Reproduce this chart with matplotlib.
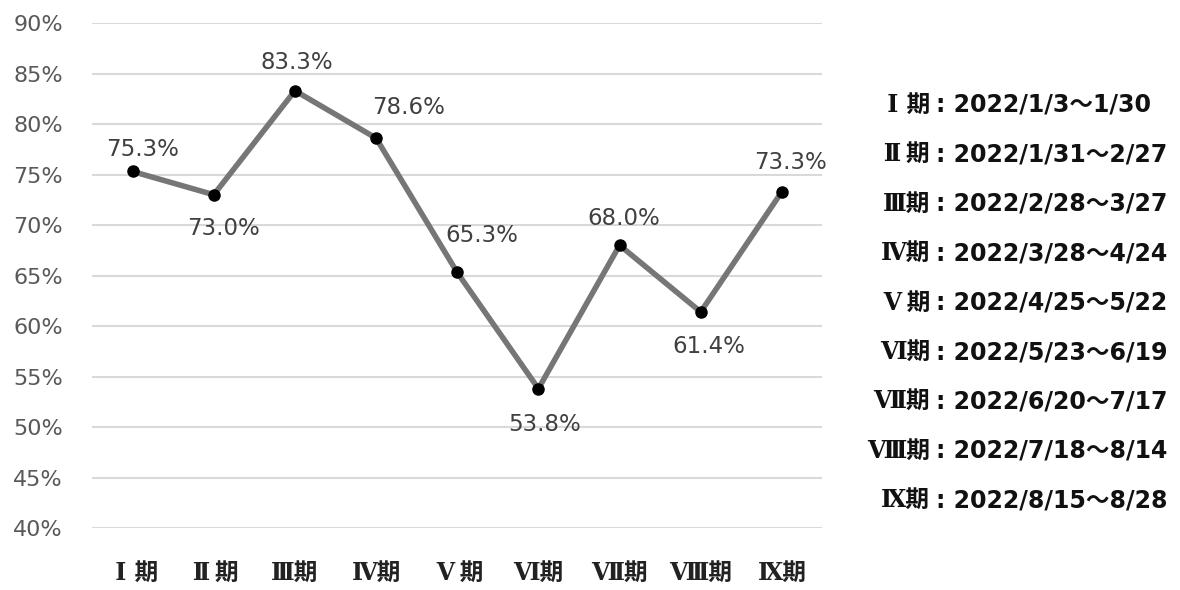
import matplotlib
matplotlib.use('Agg')
import matplotlib.pyplot as plt
from matplotlib.ticker import FuncFormatter

plt.rcParams['font.family'] = ['DejaVu Sans', 'Noto Sans CJK JP']

# Data
numerals = ['Ⅰ', 'Ⅱ', 'Ⅲ', 'Ⅳ', 'Ⅴ', 'Ⅵ', 'Ⅶ', 'Ⅷ', 'Ⅸ']
rates = [75.3, 73.0, 83.3, 78.6, 65.3, 53.8, 68.0, 61.4, 73.3]
ranges = ['2022/1/3～1/30', '2022/1/31～2/27', '2022/2/28～3/27',
          '2022/3/28～4/24', '2022/4/25～5/22', '2022/5/23～6/19',
          '2022/6/20～7/17', '2022/7/18～8/14', '2022/8/15～8/28']

# label offsets from the marker, in pixels (dx, dy up)
label_off = [(10, 22), (10, -34), (2, 28), (32, 31), (25, 37),
             (6, -36), (4, 27), (8, -35), (9, 29)]

serif_cjk = ['DejaVu Serif', 'Noto Sans CJK JP']


def cell(n):
    # narrow numerals sit in a full-width cell, like the original font
    if n == 'Ⅰ':
        return ' ' + n + ' '
    if n in ('Ⅱ', 'Ⅴ'):
        return '\u2009' + n + '\u2009'
    return n


periods = [cell(n) + '期' for n in numerals]

fig = plt.figure(figsize=(11.8, 5.9), dpi=100)
ax = fig.add_axes([0.078, 0.105, 0.619, 0.856])

x = list(range(len(numerals)))
ax.plot(x, rates, color='#767676', linewidth=4, zorder=2)
ax.plot(x, rates, 'o', color='black', markersize=8, zorder=3)

for i, v in enumerate(rates):
    dx, dy = label_off[i]
    ax.annotate(f'{v:.1f}%', (i, v), xytext=(dx * 0.72, dy * 0.72),
                textcoords='offset points', ha='center', va='center',
                fontsize=16.5, color='#404040')

ax.set_xlim(-0.5, len(numerals) - 0.5)
ax.set_ylim(40, 90)
ax.set_yticks(range(40, 91, 5))
ax.yaxis.set_major_formatter(FuncFormatter(lambda v, p: f'{int(v)}%'))
ax.set_xticks(x)
ax.set_xticklabels(periods, fontsize=17, fontweight='bold', color='#222222',
                   family=serif_cjk)
ax.tick_params(axis='y', labelsize=16, labelcolor='#595959', length=0, pad=21)
ax.tick_params(axis='x', length=0, pad=24)
ax.grid(axis='y', color='#d9d9d9', linewidth=1.5)
ax.set_axisbelow(True)
for s in ax.spines.values():
    s.set_visible(False)

# period legend on the right
for i, r in enumerate(ranges):
    y = 1 - (105 + i * 49.4) / 590
    fig.text(930 / 1180, y, periods[i], fontsize=17, fontweight='bold',
             ha='right', va='center', color='#111111', family=serif_cjk)
    fig.text(936 / 1180, y, ': ' + r, fontsize=17, fontweight='bold',
             ha='left', va='center', color='#111111',
             family=['DejaVu Sans', 'Noto Sans CJK JP'])

fig.savefig('out.png', dpi=100)
